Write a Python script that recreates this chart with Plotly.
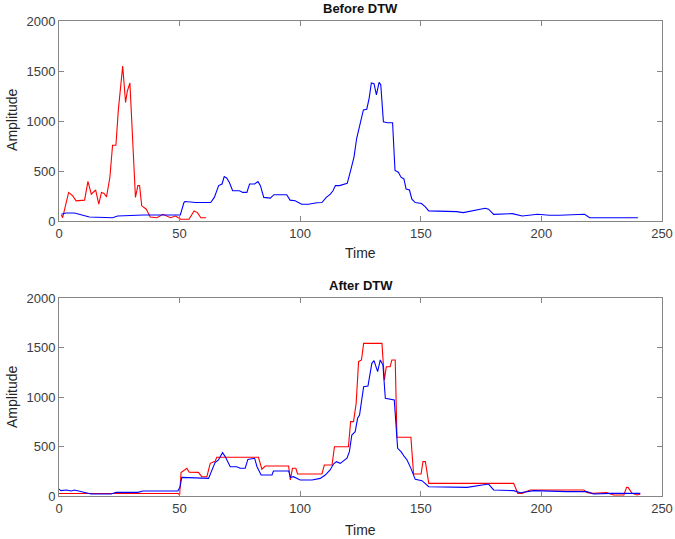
import plotly.graph_objects as go

# ---- Data ----
top_red_t = [1, 1.5, 4, 5.7, 7.1, 10.6, 12, 13.4, 15.2, 16.5, 17.6, 18.7, 19.7, 21.1, 22.2, 23.6, 24.6,
             26.4, 27.6, 28.3, 29.4, 30.6, 31.7, 32.7, 33.4, 34.3, 36.2, 37.8, 40.6, 43.1, 46.2, 48.3,
             50.4, 53.9, 56, 57.4, 58.8, 61]
top_red_a = [60, 33, 286, 252, 202, 209, 397, 269, 310, 168, 286, 276, 242, 438, 758, 758, 1111,
             1549, 1185, 1296, 1380, 808, 236, 354, 354, 152, 118, 40, 33, 67, 33, 50,
             17, 17, 101, 84, 33, 33]

top_blue_t = [1, 2.9, 6.4, 12.6, 22.2, 24.3, 35, 50.3, 51.8, 52.2, 56.7, 62.9, 64.4, 66.2, 67.6, 68.5,
              69.5, 70.6, 72, 74.8, 76.2, 77.9, 79, 81.1, 82.5, 83.5, 84.9, 87.6, 89.1, 94.4, 95.8,
              97.9, 100.6, 103.4, 106.9, 109, 110.8, 112.5, 113.6, 114.6, 116.3, 118.1, 119.5, 120.9,
              122.3, 123.4, 123.9, 124.8, 126.2, 127.6, 128.6, 129.5, 130.6, 131.6, 132.7, 133.4,
              134.5, 136.2, 138.3, 139.3, 140.7, 141.8, 143, 143.9, 145.3, 146.3, 147.7, 150.3, 151.9,
              153.3, 164.9, 167.6, 171.1, 172.5, 176.7, 178.1, 180.2, 187.9, 192.1, 198.4, 203.3,
              207.5, 217.9, 220, 229.8, 240]
top_blue_a = [67, 80, 80, 40, 33, 50, 60, 61, 185, 195, 185, 185, 236, 354, 370, 444,
              431, 387, 303, 303, 286, 286, 370, 370, 394, 354, 236, 229, 263, 263, 209,
              202, 168, 168, 182, 185, 236, 269, 303, 354, 354, 370, 377, 505,
              640, 825, 875, 977, 1111, 1118, 1229, 1380, 1374, 1262, 1387, 1364,
              993, 983, 983, 505, 488, 438, 421, 320, 310, 219, 185, 175, 141,
              101, 94, 84, 101, 108, 128, 118, 67, 74, 50, 67, 57,
              57, 67, 33, 33, 33]

bot_red_t = [0, 49.5, 50, 50.6, 53, 54, 57.8, 59.2, 61.3, 62.7, 64.7, 65.4, 82.7, 84.1, 85.5, 95.2,
             95.9, 96.8, 98.2, 98.9, 109, 110, 113.2, 114.2, 120, 120.9, 122.1, 123.2, 124.2, 125.4,
             126.3, 133.9, 134.9, 135.7, 137.3, 138, 139.4, 140.1, 145.9, 147, 150.1, 150.9, 151.9,
             153.3, 188.5, 190.2, 192, 195.4, 207.9, 217.6, 219, 221.6, 227, 230, 234.2, 235.3, 236,
             237.6, 239.7, 241]
bot_red_a = [25, 25, 10, 236, 279, 240, 239, 195, 195, 330, 350, 391, 391, 270, 303, 303,
             162, 280, 280, 222, 222, 313, 313, 498, 498, 751, 751, 936, 1357, 1374,
             1542, 1542, 1172, 1306, 1306, 1374, 1374, 593, 593, 222, 222, 347, 347,
             128, 128, 27, 27, 61, 61, 61, 34, 27, 34, 10, 10, 88, 85,
             27, 10, 20]

bot_blue_t = [0, 0.8, 3.2, 5, 6.4, 9.2, 13.3, 21.6, 23.7, 32.7, 34.8, 49.3, 50.2, 50.9, 62, 64.7,
              66.1, 67.8, 68.9, 71, 73.7, 75.1, 77.2, 78.3, 81.1, 82.1, 83.8, 88.3, 88.9, 95.2, 96,
              97.2, 100, 104.9, 108.3, 110.4, 112.4, 113.8, 115, 116.6, 119.4, 120.4, 121.4, 122.8,
              123.8, 124.6, 126.3, 128.1, 129.7, 130.6, 132.1, 133.2, 134.3, 135.3, 139, 140.4,
              141.8, 143.2, 144.3, 145.9, 147.7, 150.5, 153.3, 169.2, 173.4, 178.1, 180.2, 188.5,
              191.3, 196.8, 210.6, 218.9, 221.6, 228.7, 239.7, 241]
bot_blue_a = [70, 54, 60, 50, 60, 44, 20, 20, 37, 37, 50, 50, 94, 188, 178, 337,
              364, 438, 398, 296, 296, 280, 280, 370, 381, 296, 212, 212, 253, 253, 188,
              195, 162, 162, 178, 212, 263, 323, 347, 330, 381, 448, 616, 650,
              785, 818, 1104, 1111, 1340, 1367, 1256, 1374, 1323, 987, 970, 482,
              448, 397, 364, 279, 168, 155, 94, 87, 101, 121, 61, 54,
              33, 54, 44, 44, 20, 27, 27, 27]

x_ticks = [0, 50, 100, 150, 200, 250]
y_ticks = [0, 500, 1000, 1500, 2000]

RED = "rgb(255,0,0)"
BLUE = "rgb(0,0,255)"
AX = "#868686"
FONT = "Liberation Sans, Arial, sans-serif"

fig = go.Figure()
fig.add_trace(go.Scatter(x=top_red_t, y=top_red_a, mode="lines", line=dict(color=RED, width=1.1),
                         xaxis="x", yaxis="y", showlegend=False))
fig.add_trace(go.Scatter(x=top_blue_t, y=top_blue_a, mode="lines", line=dict(color=BLUE, width=1.1),
                         xaxis="x", yaxis="y", showlegend=False))
fig.add_trace(go.Scatter(x=bot_red_t, y=bot_red_a, mode="lines", line=dict(color=RED, width=1.1),
                         xaxis="x2", yaxis="y2", showlegend=False))
fig.add_trace(go.Scatter(x=bot_blue_t, y=bot_blue_a, mode="lines", line=dict(color=BLUE, width=1.1),
                         xaxis="x2", yaxis="y2", showlegend=False))

ax_common = dict(showline=True, linecolor=AX, linewidth=1, mirror="ticks", ticks="inside",
                 ticklen=5, tickcolor=AX, tickwidth=1, showgrid=False, zeroline=False,
                 automargin=False,
                 tickfont=dict(family=FONT, size=13, color="#3c3c3c"))

fig.update_layout(
    width=675, height=539,
    autosize=False,
    margin=dict(l=59, r=13, t=21, b=43, autoexpand=False),
    paper_bgcolor="white", plot_bgcolor="white",
    xaxis=dict(domain=[0, 1], range=[0, 250], tickvals=x_ticks, anchor="y", **ax_common),
    yaxis=dict(domain=[0.5789, 1], range=[0, 2000], tickvals=y_ticks, anchor="x", **ax_common),
    xaxis2=dict(domain=[0, 1], range=[0, 250], tickvals=x_ticks, anchor="y2", **ax_common),
    yaxis2=dict(domain=[0, 0.4168], range=[0, 2000], tickvals=y_ticks, anchor="x2", **ax_common),
)

ann = [
    dict(text="<b>Before DTW</b>", x=0.5, y=1.0253, font=dict(size=13, color="#111111")),
    dict(text="<b>After DTW</b>", x=0.5, y=0.4442, font=dict(size=13, color="#111111")),
    dict(text="Time", x=0.5, y=0.5116, font=dict(size=14, color="#262626")),
    dict(text="Time", x=0.5, y=-0.0716, font=dict(size=14, color="#262626")),
    dict(text="Amplitude", x=-0.078, y=0.7916, textangle=-90, font=dict(size=14, color="#262626")),
    dict(text="Amplitude", x=-0.078, y=0.2084, textangle=-90, font=dict(size=14, color="#262626")),
]
for a in ann:
    a.update(xref="paper", yref="paper", showarrow=False, xanchor="center", yanchor="middle")
    a["font"]["family"] = FONT
fig.update_layout(annotations=ann)

fig.write_html("out.html",
               config={"displayModeBar": False, "responsive": False},
               post_script="document.body.style.margin='0px';document.body.style.overflow='hidden';")
